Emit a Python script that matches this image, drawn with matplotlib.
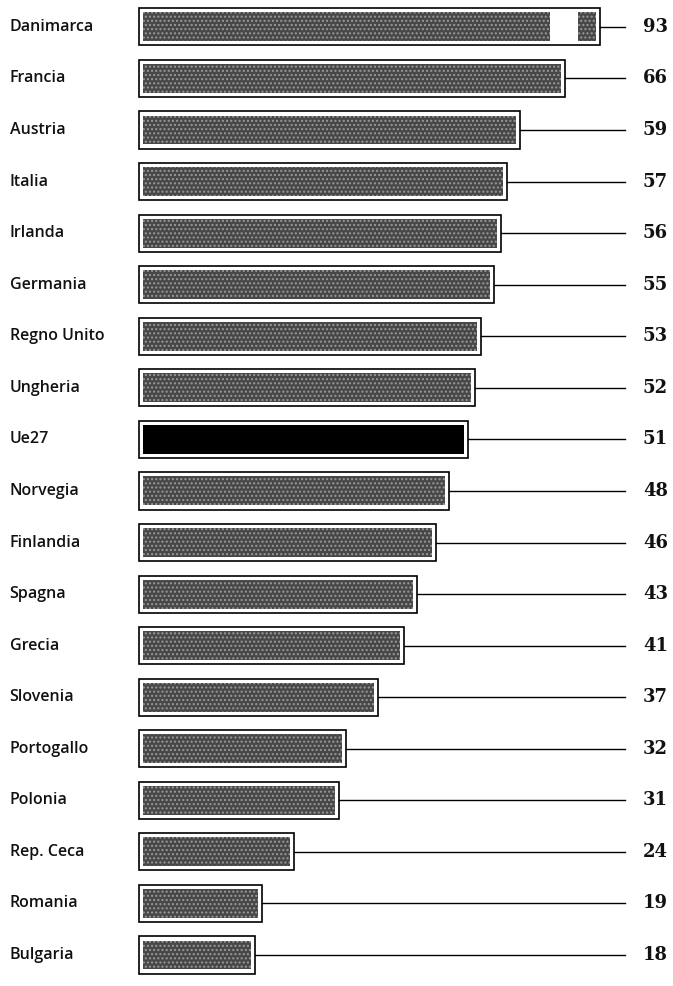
import matplotlib.pyplot as plt
from matplotlib.patches import Rectangle

paesi = ['Danimarca', 'Francia', 'Austria', 'Italia', 'Irlanda', 'Germania',
         'Regno Unito', 'Ungheria', 'Ue27', 'Norvegia', 'Finlandia', 'Spagna',
         'Grecia', 'Slovenia', 'Portogallo', 'Polonia', 'Rep. Ceca',
         'Romania', 'Bulgaria']
valori = [93, 66, 59, 57, 56, 55, 53, 52, 51, 48, 46, 43, 41, 37, 32, 31,
          24, 19, 18]

# Danimarca fuori scala: barra spezzata
taglio_da, taglio_a, fine_rotta = 63.6, 68.0, 71.4
fine_linea = 75.2

fig = plt.figure(figsize=(6.73, 9.86), dpi=100)
ax = fig.add_axes([0, 0, 1, 1])
ax.set_xlim(-21.5, 82.7)
ax.set_ylim(18.6, -0.52)
ax.axis('off')

h_box = 0.72
h_bar = 0.56
pad = 0.6

for i, (p, v) in enumerate(zip(paesi, valori)):
    col = 'black' if p == 'Ue27' else '#474747'
    fine = fine_rotta if v > fine_linea else v
    ax.add_patch(Rectangle((0, i - h_box / 2), fine, h_box, fill=False,
                           edgecolor='black', lw=1.2))
    if v > fine_linea:
        segmenti = [(pad, taglio_da), (taglio_a, fine - pad)]
    else:
        segmenti = [(pad, v - pad)]
    for a, b in segmenti:
        ax.add_patch(Rectangle((a, i - h_bar / 2), b - a, h_bar,
                               facecolor=col, edgecolor='#9a9a9a',
                               hatch='....' if p != 'Ue27' else None, lw=0))
    ax.plot([fine, fine_linea], [i, i], color='black', lw=1.0)
    ax.text(-20.0, i, p, ha='left', va='center', fontsize=11.5,
            family='Open Sans', fontweight='semibold', color='#111111')
    ax.text(81.9, i, str(v), ha='right', va='center', fontsize=13,
            family='DejaVu Serif', fontweight='bold', color='#111111')

fig.savefig('out.png', dpi=100, facecolor='white')
